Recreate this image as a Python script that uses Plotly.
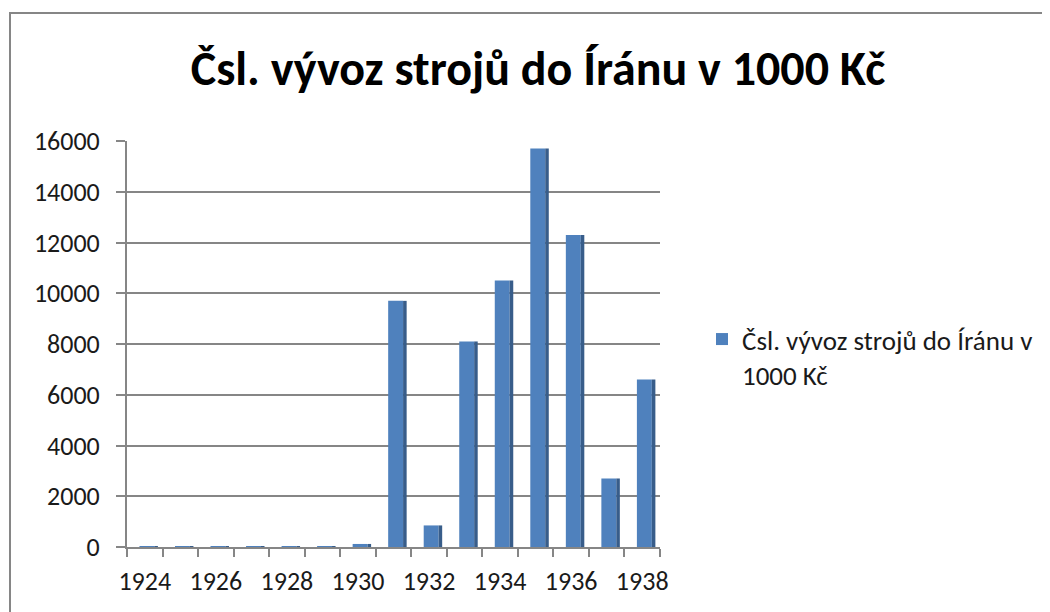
import plotly.graph_objects as go

years = list(range(1924, 1939))
values = [30, 30, 30, 30, 30, 30, 120, 9700, 850, 8100, 10500, 15700, 12300, 2700, 6600]
tick_years = [1924, 1926, 1928, 1930, 1932, 1934, 1936, 1938]
series_name = "Čsl. vývoz strojů do Íránu v 1000 Kč"
legend_label = "Čsl. vývoz strojů do Íránu v<br>1000 Kč"

FONT = "Carlito, Lato, sans-serif"
GRID = "#868686"
OFF = 8  # page body margin

L, R_PIX, TOP, ZERO = 127 - OFF, 660 - OFF, 141 - OFF, 547 - OFF

fig = go.Figure()
fig.add_trace(go.Bar(
    x=years, y=values, name=legend_label, width=0.42, offset=-0.15,
    marker=dict(color="#4F81BD", line=dict(width=0)), showlegend=True,
))
fig.add_trace(go.Bar(
    x=years, y=values, name="side", width=0.1, offset=0.27,
    marker=dict(color="#385D8A", line=dict(width=0)), showlegend=False,
))

pw = R_PIX - L
ph = ZERO - TOP

fig.update_layout(
    width=1050, height=612,
    margin=dict(l=L, r=1050 - R_PIX, t=TOP, b=612 - ZERO),
    paper_bgcolor="white", plot_bgcolor="white",
    barmode="overlay",
    font=dict(family=FONT, size=26, color="#1a1a1a"),
    title=dict(text="<b>" + series_name + "</b>", x=(538 - OFF) / 1050, xref="container",
               xanchor="center", y=1 - (68 - OFF) / 612, yanchor="middle",
               font=dict(family=FONT, size=48, color="black")),
    xaxis=dict(range=[1923.5, 1938.5], tickvals=tick_years, ticks="",
               showgrid=False, showline=True, linecolor=GRID, linewidth=2,
               tickfont=dict(size=26), ticklabelstandoff=10,
               minor=dict(tick0=1923.5, dtick=1, ticks="outside", ticklen=8,
                          tickwidth=2, tickcolor=GRID, showgrid=False),
               zeroline=False),
    yaxis=dict(range=[0, 16000], dtick=2000, ticks="outside", ticklen=9,
               tickwidth=2, tickcolor=GRID, showgrid=True, gridcolor=GRID,
               gridwidth=2, showline=True, linecolor=GRID, linewidth=2,
               zeroline=False, tickfont=dict(size=26), ticklabelstandoff=11,
               tickformat="d"),
    legend=dict(x=(702 - 127) / pw, y=(547 - 357) / ph, xanchor="left",
                yanchor="middle", valign="top", font=dict(size=27), itemwidth=30,
                bgcolor="rgba(0,0,0,0)", traceorder="normal"),
    shapes=[dict(type="rect", xref="paper", yref="paper",
                 x0=(10 - 127) / pw, x1=2.0, y0=-0.5, y1=(547 - 13) / ph,
                 line=dict(color=GRID, width=2), fillcolor="rgba(0,0,0,0)",
                 layer="below")],
)

fig.write_html("out.html")
